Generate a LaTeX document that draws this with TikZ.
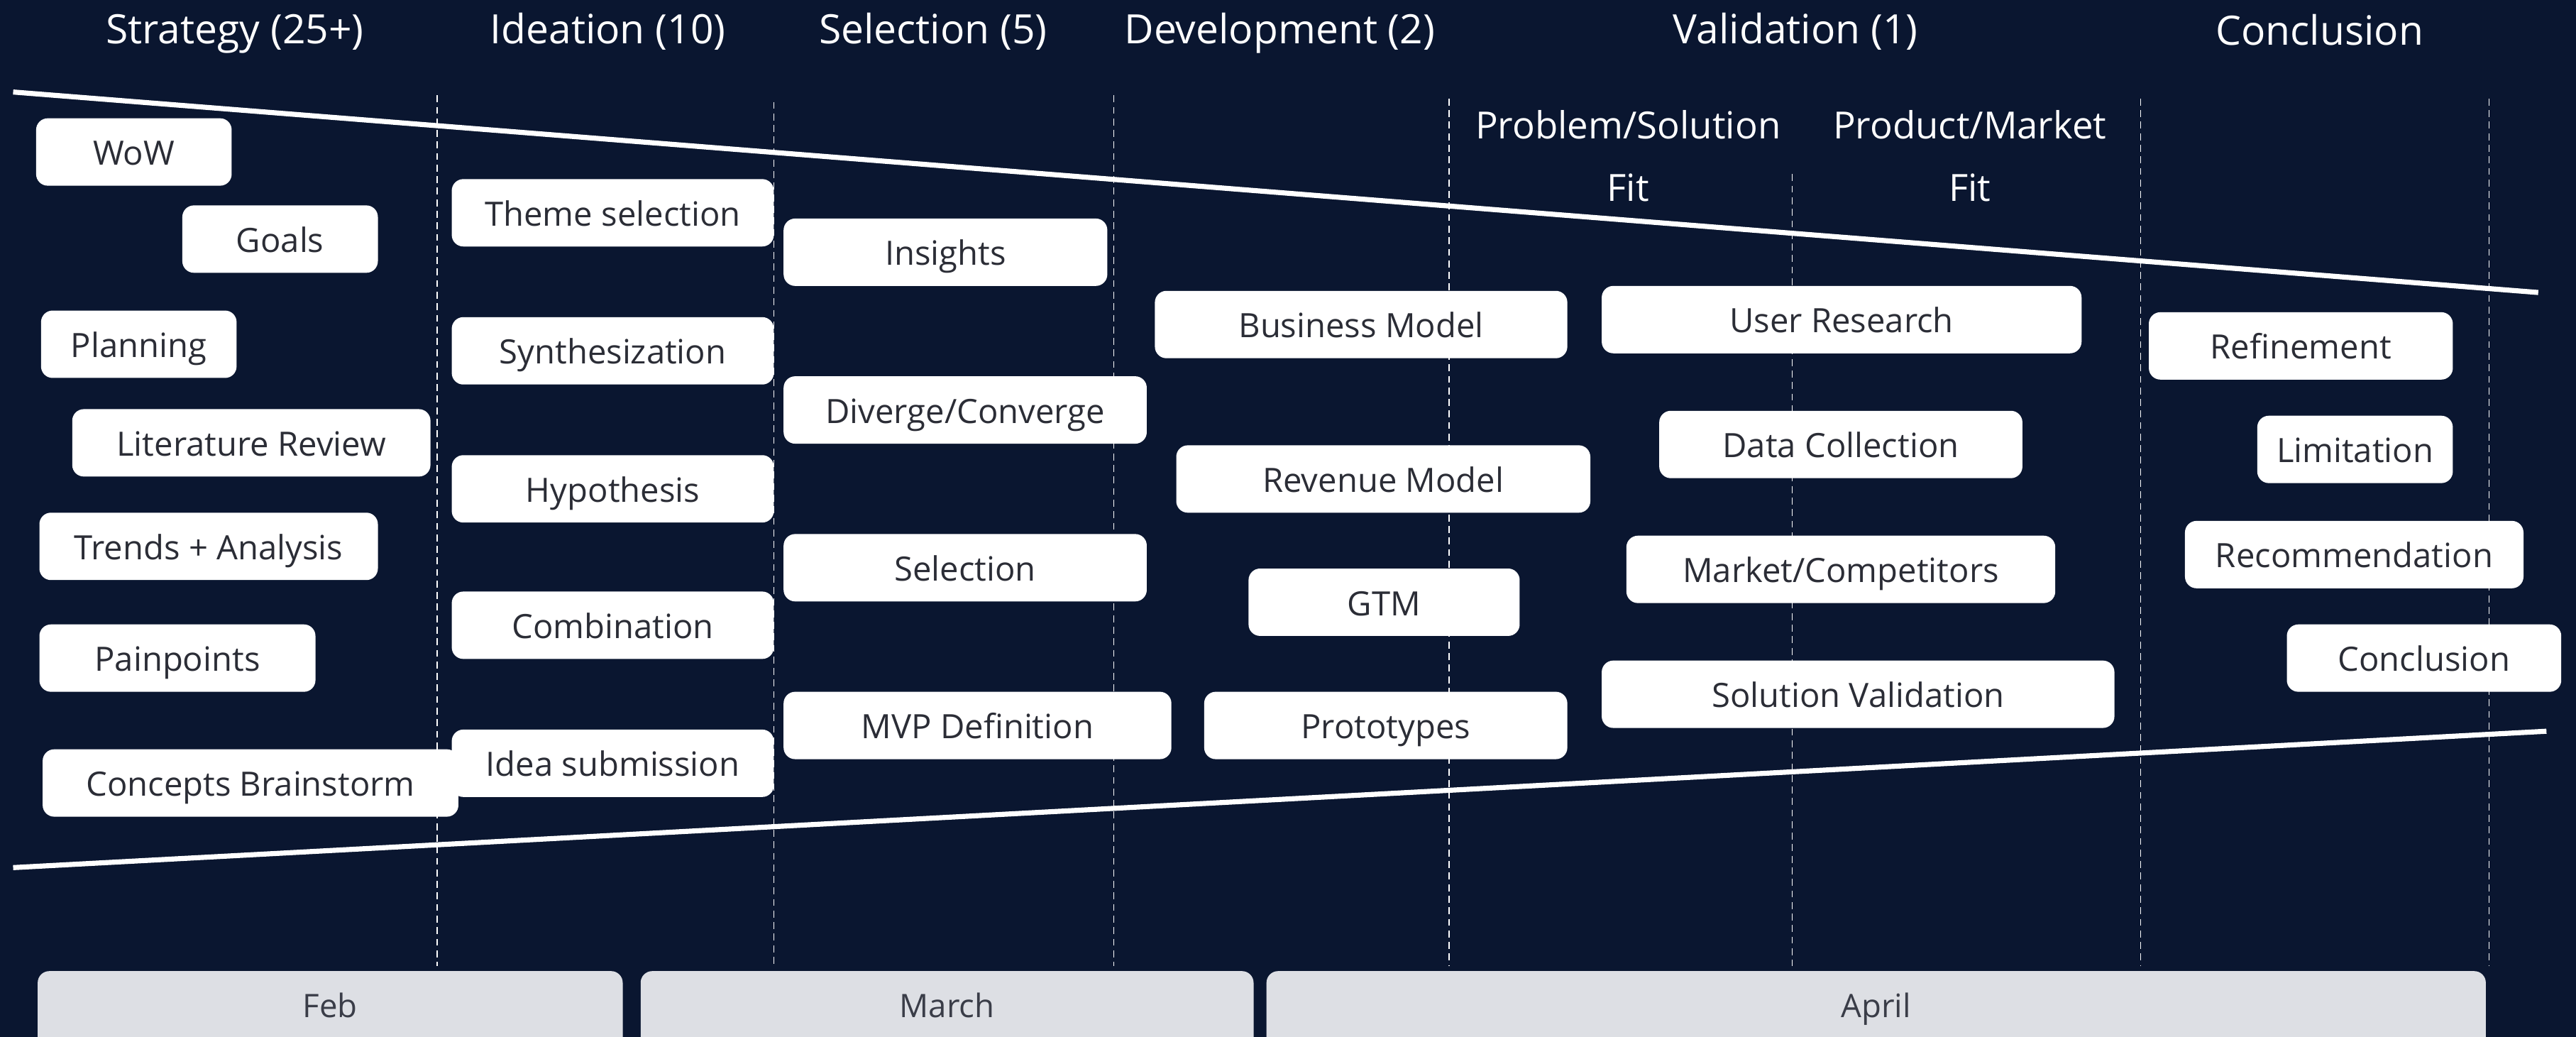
\documentclass[tikz,border=0pt]{standalone}
\usepackage{fontspec}
\setmainfont{Open Sans}
\usepackage{xcolor}
\usetikzlibrary{positioning}

\definecolor{navy}{HTML}{0A1630}
\definecolor{cardtext}{HTML}{2B2D36}
\definecolor{monthfill}{HTML}{DDDFE4}
\definecolor{monthtext}{HTML}{3A3D48}

\begin{document}
\begin{tikzpicture}[
  x=0.025cm, y=-0.025cm,                    % grid units, y grows downward
  phase/.style    = {text=white,
                     font=\fontsize{17.5}{20}\selectfont,
                     text height=12pt, text depth=0pt,
                     inner sep=0pt},
  subphase/.style = {text=white,
                     align=center,
                     font=\fontsize{16.2}{27}\selectfont,
                     inner sep=0pt},
  card/.style     = {rectangle,
                     fill=white,
                     rounded corners=5pt,
                     minimum height=1.025cm,
                     inner sep=0pt,
                     text height=11.4pt, text depth=0pt,
                     text=cardtext,
                     font=\fontsize{14.5}{16}\selectfont},
  month/.style    = {rectangle,
                     fill=monthfill,
                     rounded corners=5pt,
                     minimum height=1.225cm,
                     text height=10pt, text depth=5pt,
                     text=monthtext,
                     font=\fontsize{14}{16}\selectfont},
  funnel/.style   = {white, line width=2.2pt},
  divider/.style  = {white, line width=0.45pt, dash pattern=on 3pt off 2pt}
]

% page and background
\useasboundingbox (0,0) rectangle (1568,631);
\fill[navy] (0,0) rectangle (1568,631);

% column dividers
\draw[divider] (266,58)  -- (266,588);
\draw[divider] (471,62)  -- (471,588);
\draw[divider] (678,58)  -- (678,588);
\draw[divider] (882,60)  -- (882,588);
\draw[divider] (1091,106) -- (1091,588);
\draw[divider] (1303,60) -- (1303,588);
\draw[divider] (1515,60) -- (1515,588);

% funnel edges
\draw[funnel] (8,56)  -- (1545,178);
\draw[funnel] (8,528) -- (1550,445);

% phase titles
\node[phase] (strategy)    at (143,18)  {Strategy (25+)};
\node[phase] (ideation)    at (370,18)  {Ideation (10)};
\node[phase] (selection)   at (568,18)  {Selection (5)};
\node[phase] (development) at (779,18)  {Development (2)};
\node[phase] (validation)  at (1093,18) {Validation (1)};
\node[phase] (conclusion)  at (1412,19) {Conclusion};

\node[subphase] (psfit) at (991,95)  {Problem/Solution\\Fit};
\node[subphase] (pmfit) at (1199,95) {Product/Market\\Fit};

% strategy
\node[card, minimum width=2.975cm] (wow)        at (81.5,92.5)  {WoW};
\node[card, minimum width=2.975cm] (goals)      at (170.5,145.5) {Goals};
\node[card, minimum width=2.975cm] (planning)   at (84.5,209.5) {Planning};
\node[card, minimum width=5.45cm]  (literature) at (153,269.5)  {Literature Review};
\node[card, minimum width=5.15cm]  (trends)     at (127,332.5)  {Trends + Analysis};
\node[card, minimum width=4.2cm]   (painpoints) at (108,400.5)  {Painpoints};
\node[card, minimum width=6.325cm] (concepts)   at (152.5,476.5) {Concepts Brainstorm};

% ideation
\node[card, minimum width=4.9cm] (theme)      at (373,129.5) {Theme selection};
\node[card, minimum width=4.9cm] (synth)      at (373,213.5) {Synthesization};
\node[card, minimum width=4.9cm] (hypothesis) at (373,297.5) {Hypothesis};
\node[card, minimum width=4.9cm] (combo)      at (373,380.5) {Combination};
\node[card, minimum width=4.9cm] (submission) at (373,464.5) {Idea submission};

% selection
\node[card, minimum width=4.925cm] (insights) at (575.5,153.5) {Insights};
\node[card, minimum width=5.525cm] (diverge)  at (587.5,249.5) {Diverge/Converge};
\node[card, minimum width=5.525cm] (select)   at (587.5,345.5) {Selection};
\node[card, minimum width=5.9cm]   (mvp)      at (595,441.5)   {MVP Definition};

% development
\node[card, minimum width=6.275cm] (business)   at (828.5,197.5) {Business Model};
\node[card, minimum width=6.3cm]   (revenue)    at (842,291.5)   {Revenue Model};
\node[card, minimum width=4.125cm] (gtm)        at (842.5,366.5) {GTM};
\node[card, minimum width=5.525cm] (prototypes) at (843.5,441.5) {Prototypes};

% validation
\node[card, minimum width=7.3cm]   (research)   at (1121,194.5)   {User Research};
\node[card, minimum width=5.525cm] (data)       at (1120.5,270.5) {Data Collection};
\node[card, minimum width=6.525cm] (market)     at (1120.5,346.5) {Market/Competitors};
\node[card, minimum width=7.8cm]   (solution)   at (1131,422.5)   {Solution Validation};

% conclusion
\node[card, minimum width=4.625cm] (refinement) at (1400.5,210.5) {Refinement};
\node[card, minimum width=2.975cm] (limitation) at (1433.5,273.5) {Limitation};
\node[card, minimum width=5.15cm]  (recommend)  at (1433,337.5)   {Recommendation};
\node[card, minimum width=4.175cm] (closing)    at (1475.5,400.5) {Conclusion};

% months
\node[month, minimum width=8.9cm]   (feb)   at (201,615.5)    {Feb};
\node[month, minimum width=9.325cm] (march) at (576.5,615.5)  {March};
\node[month, minimum width=18.55cm] (april) at (1142,615.5)   {April};

\end{tikzpicture}
\end{document}
